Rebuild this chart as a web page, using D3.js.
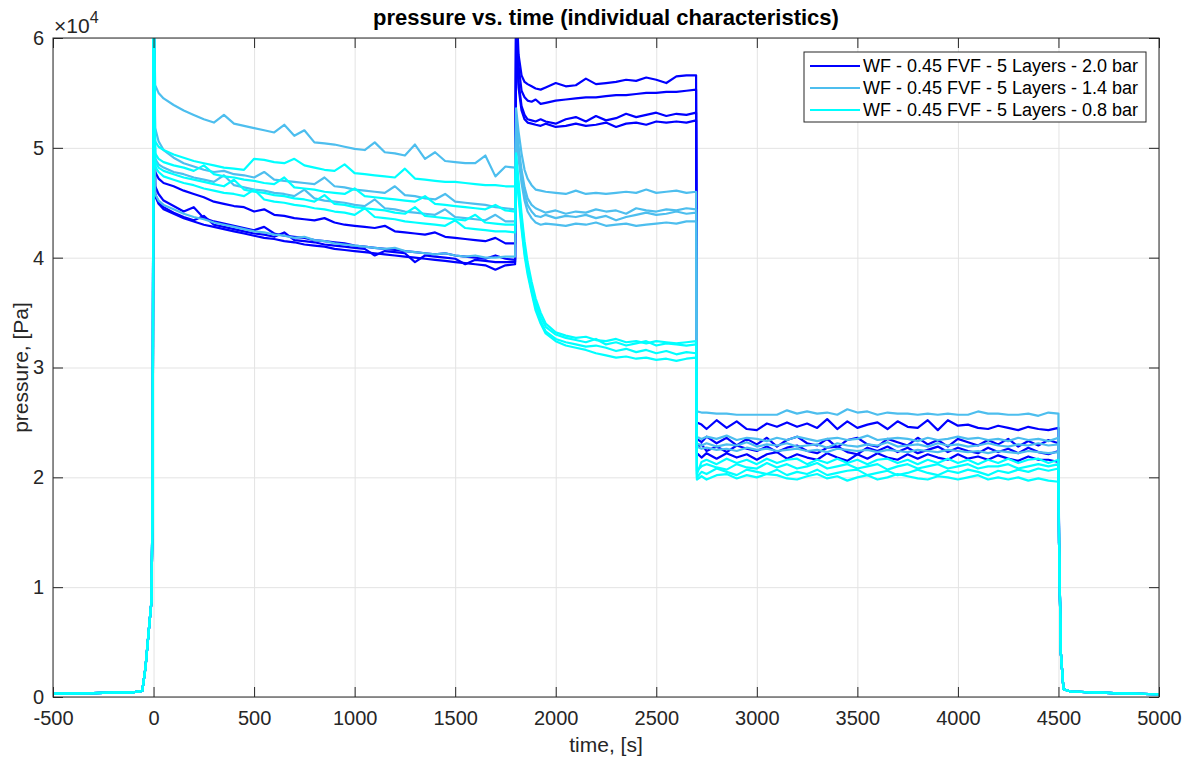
<!DOCTYPE html>
<html>
<head>
<meta charset="utf-8">
<script src="https://cdn.jsdelivr.net/npm/d3@7"></script>
<style>
  body { margin: 0; background: #fff; }
  text { font-family: "Liberation Sans", Arial, Helvetica, sans-serif; }
</style>
</head>
<body>
<svg id="chart" width="1185" height="758"></svg>
<script>
// legend entries and colours (one per pressure level)
var seriesNames = [
  "WF - 0.45 FVF - 5 Layers - 2.0 bar",
  "WF - 0.45 FVF - 5 Layers - 1.4 bar",
  "WF - 0.45 FVF - 5 Layers - 0.8 bar"
];
var groupColors = ["#0000ff", "#4dbeee", "#00ffff"];

var xTicks = [-500, 0, 500, 1000, 1500, 2000, 2500, 3000, 3500, 4000, 4500, 5000];
var yTicks = [0, 10, 20, 30, 40, 50, 60]; // kPa -> labels in 10^4 Pa

// pressure values in kPa
// shared ramp before t = 0 and tail after 4500 s
var tRamp = [-500, -400, -300, -200, -100, -56, -40, -25, -10, -4, 0];
var pRamp = [0.30, 0.33, 0.36, 0.39, 0.43, 0.55, 2.7, 5.8, 8.8, 20, 65];
var tTail = [4503, 4512, 4525, 4560, 4700, 4850, 5000];
var pTail = [14, 4, 0.7, 0.5, 0.4, 0.3, 0.25];

// phase 1 (flow at constant pressure, 0 - 1800 s)
var t1 = [8, 25, 50, 100, 150, 200, 250, 300, 350, 400, 450, 500, 550, 600, 650, 700, 750, 800, 850, 900,
  950, 1000, 1050, 1100, 1150, 1200, 1250, 1300, 1350, 1400, 1450, 1500, 1550, 1600, 1650, 1700, 1750, 1798];
var phase1Blue = [
  [47.8, 47.2, 46.8, 46.5, 46.1, 45.8, 45.5, 45.1, 44.9, 44.7, 44.6, 44.2, 44.4, 43.9, 43.8, 43.6, 43.5, 43.4, 43.6, 43.2,
   43.0, 42.9, 42.8, 42.7, 42.9, 42.4, 42.3, 42.2, 42.1, 42.3, 41.9, 41.8, 41.7, 41.6, 41.5, 41.8, 41.3, 41.3],
  [46.5, 45.8, 45.2, 44.7, 44.2, 44.6, 43.6, 43.3, 43.1, 42.9, 42.7, 42.5, 42.8, 42.2, 42.0, 41.9, 41.8, 41.6, 41.5, 41.4,
   41.3, 41.1, 41.0, 40.9, 40.8, 40.7, 40.6, 40.5, 40.4, 40.3, 40.4, 40.2, 40.1, 40.0, 39.9, 40.2, 39.9, 39.8],
  [45.8, 45.0, 44.6, 44.1, 43.7, 43.4, 43.8, 43.0, 42.8, 42.6, 42.4, 42.2, 42.1, 41.9, 42.3, 41.6, 41.5, 41.4, 41.2, 41.1,
   41.0, 40.9, 40.8, 40.2, 40.6, 40.5, 40.4, 39.6, 40.2, 40.1, 40.0, 39.9, 39.4, 39.8, 39.7, 39.6, 39.6, 39.6],
  [45.6, 44.9, 44.4, 44.0, 43.6, 43.3, 43.0, 42.8, 42.6, 42.4, 42.2, 42.0, 41.8, 41.7, 41.5, 41.4, 41.2, 41.1, 41.0, 40.8,
   40.7, 40.6, 40.5, 40.4, 40.3, 40.2, 40.1, 40.0, 39.9, 39.8, 39.7, 39.6, 39.5, 39.4, 39.3, 38.9, 39.3, 39.4]
];
var phase1LightBlue = [
  [55.7, 55.0, 54.5, 53.9, 53.4, 53.0, 52.6, 52.3, 53.0, 52.2, 52.0, 51.8, 51.6, 51.4, 52.1, 51.1, 51.6, 50.5, 50.4, 50.3,
   50.1, 49.9, 49.8, 50.5, 49.6, 49.5, 49.3, 50.3, 49.0, 49.6, 48.8, 48.7, 48.6, 48.6, 49.3, 47.4, 48.3, 48.2],
  [51.8, 50.6, 49.8, 49.1, 48.6, 48.3, 48.0, 47.8, 47.9, 47.6, 47.5, 47.3, 47.8, 47.1, 47.0, 46.9, 46.8, 46.7, 47.3, 46.5,
   46.4, 46.2, 46.1, 46.0, 45.9, 46.5, 45.7, 45.6, 45.4, 45.3, 45.8, 45.1, 45.0, 44.9, 44.8, 44.6, 44.5, 44.4],
  [49.0, 48.5, 48.2, 47.8, 47.6, 47.3, 47.1, 46.9, 47.5, 46.6, 46.4, 46.2, 46.1, 45.9, 45.8, 45.6, 46.2, 45.4, 45.2, 45.1,
   45.0, 44.8, 44.7, 45.3, 44.5, 44.4, 44.2, 44.1, 44.0, 43.9, 44.4, 43.7, 43.6, 43.5, 43.4, 43.9, 43.3, 43.3],
  [45.8, 45.2, 44.8, 44.4, 44.0, 43.7, 43.5, 43.2, 43.0, 42.8, 42.6, 42.4, 42.3, 42.1, 42.0, 41.8, 41.9, 41.6, 41.5, 41.3,
   41.2, 41.1, 41.0, 40.9, 40.8, 40.9, 40.6, 40.5, 40.4, 40.3, 40.4, 40.2, 40.1, 40.2, 40.0, 40.0, 40.1, 40.1]
];
var phase1Cyan = [
  [50.6, 50.1, 49.8, 49.4, 49.1, 48.8, 48.6, 48.4, 48.2, 48.1, 48.0, 49.0, 48.9, 48.7, 48.6, 49.0, 48.4, 48.2, 48.0, 47.9,
   48.5, 47.7, 47.6, 47.5, 47.4, 47.3, 48.1, 47.2, 47.1, 47.0, 46.9, 46.9, 46.8, 46.7, 46.6, 46.6, 46.5, 46.5],
  [49.5, 49.0, 48.7, 48.4, 48.2, 47.9, 48.4, 47.6, 47.4, 47.3, 47.1, 47.0, 46.8, 46.7, 47.3, 46.4, 46.3, 46.2, 46.0, 45.9,
   45.8, 46.3, 45.6, 45.5, 45.4, 45.3, 45.2, 45.1, 45.6, 44.9, 44.8, 44.7, 44.6, 44.5, 44.4, 44.8, 44.3, 44.2],
  [48.8, 48.2, 47.9, 47.6, 47.3, 47.1, 46.9, 46.7, 46.5, 47.1, 46.2, 46.0, 45.9, 45.7, 45.6, 45.4, 45.3, 45.1, 45.7, 44.9,
   44.8, 44.6, 44.5, 44.4, 44.3, 44.1, 44.0, 44.6, 43.8, 43.7, 43.6, 43.5, 43.4, 43.9, 43.2, 43.1, 43.0, 43.0],
  [48.3, 47.8, 47.4, 47.1, 46.8, 46.6, 46.3, 46.1, 45.9, 45.8, 45.6, 46.2, 45.3, 45.1, 45.0, 44.8, 44.7, 44.5, 44.4, 44.2,
   44.1, 43.9, 44.5, 43.7, 43.6, 43.5, 43.3, 43.2, 43.1, 43.0, 42.9, 43.4, 42.7, 42.6, 42.5, 42.4, 42.4, 42.3]
];

// phase 2 (1800 - 2700 s)
var t2 = [1803, 1815, 1830, 1845, 1860, 1880, 1900, 1925, 1950, 2000, 2050, 2100, 2150, 2200, 2250, 2300,
  2350, 2400, 2450, 2500, 2550, 2600, 2650, 2698];
var phase2Blue = [
  [64, 58.5, 56.6, 56.0, 55.8, 55.6, 55.4, 55.3, 55.5, 55.9, 55.6, 55.7, 56.3, 55.8, 55.9, 56.0, 56.2, 56.1, 56.4, 56.2, 55.9, 56.5, 56.6, 56.6],
  [63, 57.5, 55.2, 54.6, 54.3, 54.2, 54.4, 54.0, 54.1, 54.3, 54.4, 54.5, 54.6, 54.6, 54.7, 54.8, 54.8, 54.9, 55.0, 55.0, 55.1, 55.1, 55.2, 55.3],
  [62, 56.0, 53.8, 53.0, 52.6, 52.5, 52.4, 52.6, 52.4, 52.2, 52.6, 52.8, 52.4, 52.9, 52.5, 52.7, 53.1, 52.8, 53.0, 53.2, 52.9, 53.1, 53.0, 53.2],
  [61, 55.5, 53.4, 52.6, 52.3, 52.2, 52.1, 52.0, 52.2, 51.9, 52.0, 52.2, 52.0, 52.1, 52.3, 51.9, 52.2, 52.3, 52.1, 52.4, 52.3, 52.4, 52.3, 52.5]
];
var phase2LightBlue = [
  [53.6, 51.5, 49.5, 48.0, 47.2, 46.6, 46.2, 46.1, 46.0, 45.9, 45.8, 46.1, 45.8, 45.9, 45.8, 45.9, 46.0, 45.9, 46.2, 45.9, 46.0, 46.1, 45.9, 46.0],
  [52.5, 50.2, 48.0, 46.4, 45.4, 44.8, 44.5, 44.3, 44.1, 44.3, 44.0, 44.2, 44.1, 44.4, 44.2, 44.3, 44.0, 44.5, 44.3, 44.2, 44.4, 44.3, 44.5, 44.4],
  [52.0, 49.6, 47.4, 45.8, 44.8, 44.2, 43.8, 43.7, 43.9, 43.6, 43.8, 43.7, 43.9, 43.6, 43.8, 43.4, 43.7, 43.9, 44.1, 43.9, 44.0, 44.2, 44.0, 44.1],
  [51.5, 49.0, 46.8, 45.2, 44.2, 43.6, 43.2, 43.0, 43.1, 43.0, 42.9, 43.1, 43.0, 43.2, 42.9, 43.0, 43.1, 42.9, 43.0, 43.1, 43.2, 43.1, 43.3, 43.3]
];
var phase2Cyan = [
  [49.5, 47.0, 44.0, 41.5, 39.6, 37.8, 36.3, 35.0, 34.0, 33.2, 32.9, 32.7, 32.8, 32.5, 32.4, 32.6, 32.3, 32.4, 32.2, 32.4, 32.3, 32.2, 32.3, 32.4],
  [49.0, 46.5, 43.5, 41.0, 39.2, 37.4, 35.9, 34.6, 33.7, 33.0, 32.7, 32.5, 32.3, 32.6, 32.1, 32.3, 32.0, 32.2, 32.4, 32.0, 32.2, 32.1, 32.0, 32.1],
  [48.5, 46.0, 43.0, 40.5, 38.8, 37.0, 35.5, 34.2, 33.3, 32.6, 32.3, 32.1, 31.9, 32.0, 31.8, 31.5, 31.7, 31.4, 31.6, 31.3, 31.5, 31.2, 31.4, 31.3],
  [48.0, 45.5, 42.6, 40.2, 38.5, 36.8, 35.2, 34.0, 33.1, 32.4, 32.0, 31.8, 31.6, 31.3, 31.1, 30.9, 31.0, 30.8, 30.9, 30.7, 30.8, 30.6, 30.8, 30.9]
];

// phase 3 (2700 - 4500 s)
var t3 = [2702, 2725, 2750, 2800, 2850, 2900, 2950, 3000, 3050, 3100, 3150, 3200, 3250, 3300, 3350, 3400, 3450, 3500, 3550,
  3600, 3650, 3700, 3750, 3800, 3850, 3900, 3950, 4000, 4050, 4100, 4150, 4200, 4250, 4300, 4350, 4400, 4450, 4500];
var phase3Blue = [
  [25.0, 24.8, 24.4, 25.2, 24.5, 25.1, 24.4, 24.3, 24.9, 24.6, 25.0, 24.6, 24.9, 24.5, 25.3, 24.4, 25.1, 24.5, 24.8,
   25.0, 24.4, 25.1, 24.6, 24.5, 25.2, 24.3, 25.2, 24.7, 24.8, 24.5, 24.4, 24.7, 24.5, 24.3, 24.6, 24.4, 24.3, 24.5],
  [23.5, 23.2, 23.7, 23.1, 23.6, 22.9, 23.5, 23.0, 23.6, 22.8, 23.4, 23.7, 23.1, 22.9, 23.5, 22.7, 23.4, 23.6, 23.0,
   22.8, 23.5, 23.2, 22.9, 23.6, 23.0, 23.4, 22.8, 23.5, 23.2, 22.9, 23.4, 23.0, 23.5, 22.8, 23.3, 22.9, 23.4, 23.1],
  [22.7, 23.0, 22.4, 22.8, 22.3, 22.9, 22.6, 22.4, 22.8, 22.3, 22.7, 22.9, 22.4, 22.2, 22.7, 22.8, 22.3, 22.1, 22.7,
   22.4, 22.8, 22.3, 22.7, 22.2, 22.5, 22.8, 22.3, 22.7, 22.4, 22.2, 22.7, 22.3, 22.6, 22.2, 22.7, 22.3, 22.1, 22.4],
  [22.2, 21.8, 22.2, 21.7, 22.2, 21.8, 22.1, 21.6, 22.1, 22.3, 21.7, 22.1, 21.8, 21.6, 22.2, 21.8, 21.5, 22.1, 21.7,
   22.2, 21.8, 21.6, 22.1, 21.7, 22.1, 21.8, 21.6, 22.1, 21.7, 21.9, 21.6, 22.0, 21.7, 21.5, 21.9, 21.6, 21.6, 21.4]
];
var phase3LightBlue = [
  [26.0, 25.9, 25.9, 25.8, 25.8, 25.7, 25.7, 25.7, 25.7, 25.7, 26.1, 25.8, 26.0, 25.8, 25.9, 25.7, 26.2, 25.9, 26.0,
   25.7, 25.9, 25.8, 25.8, 25.7, 25.8, 25.7, 25.8, 25.7, 25.7, 26.0, 25.8, 25.8, 25.7, 25.7, 25.8, 25.6, 25.9, 25.8],
  [23.7, 23.5, 23.7, 23.5, 23.8, 23.4, 23.6, 23.5, 23.3, 23.6, 23.4, 23.7, 23.5, 23.3, 23.5, 23.6, 23.4, 23.5, 23.8,
   23.4, 23.5, 23.6, 23.5, 23.3, 23.6, 23.4, 23.5, 23.7, 23.5, 23.6, 23.4, 23.5, 23.3, 23.6, 23.4, 23.5, 23.3, 23.6],
  [23.1, 22.9, 23.1, 22.8, 23.0, 22.9, 23.2, 22.8, 23.0, 22.9, 23.1, 22.8, 22.9, 23.0, 22.7, 23.1, 22.9, 22.8, 23.0,
   22.9, 23.2, 22.8, 22.9, 23.0, 22.8, 23.1, 22.9, 23.0, 22.8, 22.9, 23.1, 22.9, 22.8, 23.0, 22.9, 23.1, 22.9, 23.0],
  [22.8, 22.6, 22.7, 22.5, 22.6, 22.4, 22.7, 22.5, 22.6, 22.4, 22.5, 22.6, 22.4, 22.5, 22.3, 22.6, 22.5, 22.4, 22.5,
   22.3, 22.5, 22.4, 22.3, 22.5, 22.4, 22.3, 22.5, 22.4, 22.3, 22.4, 22.2, 22.4, 22.3, 22.2, 22.4, 22.3, 22.2, 22.3]
];
var phase3Cyan = [
  [20.3, 21.4, 21.6, 21.2, 21.7, 21.3, 21.6, 21.2, 21.7, 21.3, 21.6, 21.7, 21.2, 21.6, 21.3, 21.7, 21.3, 21.6, 21.2,
   21.6, 21.7, 21.3, 21.6, 21.2, 21.6, 21.3, 21.7, 21.3, 21.6, 21.2, 21.6, 21.3, 21.7, 21.3, 21.6, 21.7, 21.3, 21.6],
  [20.6, 21.0, 21.2, 20.9, 20.7, 21.2, 20.9, 20.8, 21.3, 20.9, 21.2, 20.8, 21.0, 21.3, 20.8, 21.0, 21.2, 20.8, 21.0,
   21.2, 20.7, 21.0, 21.2, 20.8, 21.0, 21.2, 20.8, 21.0, 21.2, 20.8, 21.0, 21.0, 21.2, 20.8, 21.0, 21.2, 21.0, 21.2],
  [20.0, 20.5, 20.3, 20.8, 20.5, 20.2, 20.7, 20.5, 20.3, 20.7, 20.2, 20.5, 20.3, 20.7, 20.2, 20.4, 20.6, 20.7, 20.2,
   20.4, 20.6, 20.2, 20.4, 20.7, 20.4, 20.2, 20.6, 20.4, 20.7, 20.5, 20.2, 20.6, 20.4, 20.7, 20.5, 20.8, 20.6, 20.8],
  [19.8, 20.1, 19.8, 20.2, 20.3, 19.9, 20.2, 20.0, 20.3, 20.2, 19.9, 19.8, 20.1, 20.3, 19.9, 20.1, 19.7, 20.0, 20.2,
   19.8, 20.0, 20.3, 20.1, 19.9, 19.8, 20.1, 20.0, 19.8, 20.0, 20.2, 19.8, 20.0, 19.8, 20.0, 19.7, 19.9, 19.7, 19.6]
];

var phase1 = [phase1Blue, phase1LightBlue, phase1Cyan];
var phase2 = [phase2Blue, phase2LightBlue, phase2Cyan];
var phase3 = [phase3Blue, phase3LightBlue, phase3Cyan];

// build one point list per run
function zipPts(ts, ps) {
  return ts.map(function (t, i) { return { t: t, p: ps[i] }; });
}
var runs = [];
for (var g = 0; g < 3; g++) {
  for (var r = 0; r < 4; r++) {
    var pts = zipPts(tRamp, pRamp)
      .concat(zipPts(t1, phase1[g][r]))
      .concat(zipPts(t2, phase2[g][r]))
      .concat(zipPts(t3, phase3[g][r]))
      .concat(zipPts(tTail, pTail));
    runs.push({ group: g, pts: pts });
  }
}

var svg = d3.select("#chart");
var margin = { left: 53, right: 26, top: 38, bottom: 61 };
var width = 1185, height = 758;
var plotW = width - margin.left - margin.right;
var plotH = height - margin.top - margin.bottom;

var xScale = d3.scaleLinear().domain([-500, 5000]).range([margin.left, margin.left + plotW]);
var yScale = d3.scaleLinear().domain([0, 60]).range([margin.top + plotH, margin.top]);

// grid
svg.append("g")
  .attr("transform", "translate(0," + (margin.top + plotH) + ")")
  .call(d3.axisBottom(xScale).tickValues(xTicks).tickSize(-plotH).tickFormat(""))
  .call(function (g) { g.select(".domain").remove(); })
  .selectAll("line").attr("stroke", "#e3e3e3");
svg.append("g")
  .attr("transform", "translate(" + margin.left + ",0)")
  .call(d3.axisLeft(yScale).tickValues(yTicks).tickSize(-plotW).tickFormat(""))
  .call(function (g) { g.select(".domain").remove(); })
  .selectAll("line").attr("stroke", "#e3e3e3");

// data
svg.append("clipPath").attr("id", "clip")
  .append("rect")
  .attr("x", margin.left).attr("y", margin.top)
  .attr("width", plotW).attr("height", plotH);

var line = d3.line()
  .x(function (d) { return xScale(d.t); })
  .y(function (d) { return yScale(d.p); });

svg.append("g").attr("clip-path", "url(#clip)")
  .selectAll("path")
  .data(runs)
  .enter()
  .append("path")
  .attr("d", function (d) { return line(d.pts); })
  .attr("fill", "none")
  .attr("stroke", function (d) { return groupColors[d.group]; })
  .attr("stroke-width", 2.2)
  .attr("stroke-linejoin", "round");

// axes (ticks pointing inward, box on)
function styleAxis(g) {
  g.select(".domain").remove();
  g.selectAll("line").attr("stroke", "#262626");
  g.selectAll("text").attr("fill", "#262626").style("font-size", "20px")
    .style("font-family", "'Liberation Sans', Arial, sans-serif");
}
function plainNum(d) { return String(d); }
svg.append("g")
  .attr("transform", "translate(0," + (margin.top + plotH) + ")")
  .call(d3.axisBottom(xScale).tickValues(xTicks).tickSizeInner(-10).tickSizeOuter(0).tickPadding(14)
    .tickFormat(plainNum))
  .call(styleAxis);
svg.append("g")
  .attr("transform", "translate(0," + margin.top + ")")
  .call(d3.axisTop(xScale).tickValues(xTicks).tickSizeInner(-10).tickSizeOuter(0).tickFormat(""))
  .call(styleAxis);
svg.append("g")
  .attr("transform", "translate(" + margin.left + ",0)")
  .call(d3.axisLeft(yScale).tickValues(yTicks).tickSizeInner(-10).tickSizeOuter(0).tickPadding(9)
    .tickFormat(function (d) { return String(d / 10); }))
  .call(styleAxis);
svg.append("g")
  .attr("transform", "translate(" + (margin.left + plotW) + ",0)")
  .call(d3.axisRight(yScale).tickValues(yTicks).tickSizeInner(-10).tickSizeOuter(0).tickFormat(""))
  .call(styleAxis);

svg.append("rect")
  .attr("x", margin.left).attr("y", margin.top)
  .attr("width", plotW).attr("height", plotH)
  .attr("fill", "none").attr("stroke", "#262626").attr("stroke-width", 1);

// exponent label
var expo = svg.append("text")
  .attr("x", margin.left + 1).attr("y", margin.top - 5)
  .attr("fill", "#262626").style("font-size", "21px");
expo.append("tspan").text("\u00d710");
expo.append("tspan").attr("dy", -10).style("font-size", "16px").text("4");

// title and axis labels
svg.append("text")
  .attr("x", margin.left + plotW / 2).attr("y", 25)
  .attr("text-anchor", "middle")
  .style("font-size", "22px").style("font-weight", "bold")
  .text("pressure vs. time (individual characteristics)");
svg.append("text")
  .attr("x", margin.left + plotW / 2).attr("y", 752)
  .attr("text-anchor", "middle").attr("fill", "#262626")
  .style("font-size", "21px")
  .text("time, [s]");
svg.append("text")
  .attr("transform", "translate(28," + (margin.top + plotH / 2) + ")rotate(-90)")
  .attr("text-anchor", "middle").attr("fill", "#262626")
  .style("font-size", "21px")
  .text("pressure, [Pa]");

// legend
var legend = svg.append("g").attr("transform", "translate(804,52)");
legend.append("rect")
  .attr("width", 342).attr("height", 70)
  .attr("fill", "#fff").attr("stroke", "#262626").attr("stroke-width", 1);
for (var i = 0; i < seriesNames.length; i++) {
  var yPos = 14 + i * 22;
  legend.append("line")
    .attr("x1", 6).attr("x2", 56)
    .attr("y1", yPos).attr("y2", yPos)
    .attr("stroke", groupColors[i]).attr("stroke-width", 2);
  legend.append("text")
    .attr("x", 59).attr("y", yPos)
    .attr("dy", "0.35em")
    .attr("fill", "#000")
    .style("font-size", "18px")
    .text(seriesNames[i]);
}
</script>
</body>
</html>
